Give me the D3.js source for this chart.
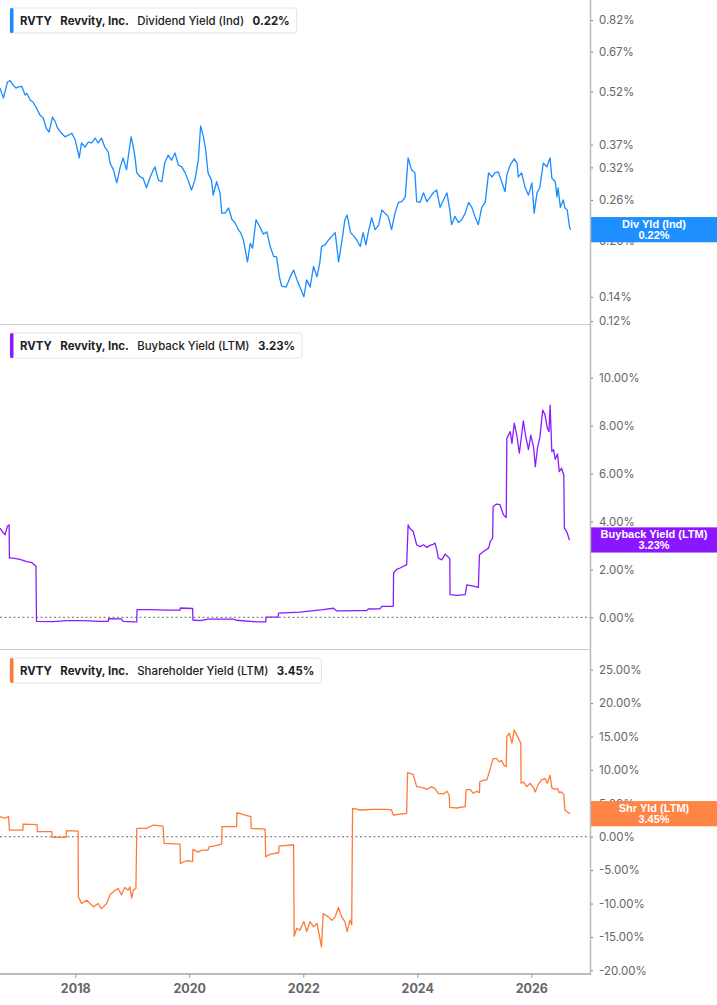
<!DOCTYPE html>
<html>
<head>
<meta charset="utf-8">
<script src="https://cdn.jsdelivr.net/npm/d3@7"></script>
<style>
  html, body { margin: 0; padding: 0; background: #fff; }
  svg { display: block; font-family: Inter, "Noto Sans", sans-serif; }
</style>
</head>
<body>
<div id="chart"></div>
<script>
(function() {
// chart values (time as decimal year, values in %)
let divT = [2016.68,2016.74,2016.81,2016.86,2016.91,2016.96,2017.00,2017.06,2017.12,2017.15,
  2017.21,2017.26,2017.32,2017.38,2017.44,2017.49,2017.54,2017.60,2017.65,2017.69,
  2017.76,2017.82,2017.88,2017.94,2018.00,2018.07,2018.11,2018.17,2018.23,2018.29,
  2018.35,2018.40,2018.46,2018.52,2018.58,2018.61,2018.67,2018.73,2018.79,2018.84,
  2018.90,2018.93,2018.98,2019.02,2019.05,2019.08,2019.14,2019.19,2019.25,2019.31,
  2019.37,2019.40,2019.46,2019.52,2019.57,2019.63,2019.69,2019.75,2019.81,2019.87,
  2019.93,2019.98,2020.04,2020.10,2020.16,2020.20,2020.25,2020.29,2020.33,2020.39,
  2020.42,2020.48,2020.54,2020.57,2020.63,2020.69,2020.75,2020.80,2020.86,2020.90,
  2020.95,2021.02,2021.07,2021.11,2021.17,2021.23,2021.30,2021.36,2021.42,2021.48,
  2021.53,2021.58,2021.62,2021.70,2021.77,2021.83,2021.89,2021.94,2022.01,2022.06,
  2022.12,2022.18,2022.24,2022.29,2022.32,2022.38,2022.44,2022.50,2022.56,2022.62,
  2022.68,2022.73,2022.77,2022.83,2022.89,2022.94,2023.00,2023.05,2023.10,2023.14,
  2023.20,2023.26,2023.32,2023.38,2023.43,2023.49,2023.55,2023.61,2023.67,2023.73,
  2023.79,2023.84,2023.90,2023.96,2023.99,2024.05,2024.11,2024.17,2024.22,2024.28,
  2024.34,2024.40,2024.46,2024.52,2024.57,2024.60,2024.66,2024.72,2024.78,2024.84,
  2024.90,2024.96,2025.01,2025.07,2025.13,2025.19,2025.25,2025.31,2025.36,2025.42,
  2025.48,2025.54,2025.57,2025.63,2025.70,2025.75,2025.77,2025.83,2025.89,2025.95,
  2026.01,2026.05,2026.10,2026.15,2026.21,2026.27,2026.33,2026.36,2026.42,2026.45,
  2026.47,2026.51,2026.56,2026.59,2026.63,2026.67,2026.69];
let divV = [.531,.498,.552,.557,.541,.531,.535,.537,.508,.513,
  .492,.485,.467,.447,.438,.411,.401,.441,.428,.411,
  .398,.389,.393,.398,.381,.340,.374,.364,.376,.374,
  .386,.374,.386,.364,.353,.329,.315,.290,.321,.340,
  .315,.342,.389,.364,.340,.309,.301,.299,.281,.299,
  .315,.321,.295,.292,.329,.346,.335,.351,.325,.321,
  .309,.295,.277,.295,.335,.417,.389,.357,.309,.295,
  .268,.292,.272,.239,.239,.247,.229,.225,.215,.211,
  .201,.175,.197,.191,.229,.220,.209,.212,.193,.181,
  .181,.159,.150,.149,.159,.166,.156,.149,.140,.156,
  .149,.170,.159,.174,.193,.195,.201,.206,.211,.175,
  .201,.229,.236,.211,.206,.201,.193,.211,.195,.211,
  .232,.215,.221,.244,.239,.234,.215,.239,.256,.257,
  .265,.340,.315,.309,.257,.256,.272,.257,.264,.272,
  .277,.248,.260,.272,.244,.222,.234,.225,.229,.239,
  .256,.247,.234,.222,.248,.256,.309,.301,.309,.311,
  .292,.274,.305,.325,.338,.329,.301,.309,.282,.268,
  .290,.239,.272,.282,.329,.321,.340,.299,.292,.265,
  .281,.248,.260,.247,.244,.219,.215];

let bbT = [2016.68,2016.73,2016.77,2016.81,2016.84,2016.845,2016.91,2017.03,2017.15,2017.24,
  2017.31,2017.32,2017.61,2017.85,2018.14,2018.43,2018.58,2018.585,2018.81,2018.84,
  2019.02,2019.08,2019.085,2019.31,2019.60,2019.84,2019.845,2020.06,2020.065,2020.19,
  2020.33,2020.77,2020.83,2021.18,2021.34,2021.345,2021.56,2021.565,2021.94,2022.35,
  2022.53,2022.59,2023.00,2023.11,2023.14,2023.35,2023.38,2023.58,2023.585,2023.64,
  2023.70,2023.815,2023.84,2023.87,2023.93,2023.99,2024.05,2024.11,2024.17,2024.22,
  2024.28,2024.31,2024.34,2024.37,2024.43,2024.49,2024.55,2024.57,2024.575,2024.69,
  2024.84,2024.87,2024.98,2025.07,2025.09,2025.16,2025.25,2025.28,2025.32,2025.33,
  2025.39,2025.45,2025.51,2025.56,2025.57,2025.63,2025.66,2025.70,2025.745,2025.79,
  2025.86,2025.90,2025.95,2025.99,2026.04,2026.07,2026.11,2026.15,2026.20,2026.24,
  2026.28,2026.31,2026.33,2026.36,2026.39,2026.42,2026.46,2026.49,2026.53,2026.57,
  2026.58,2026.62,2026.67];
let bbV = [3.72,3.55,3.45,3.80,3.86,2.47,2.47,2.42,2.33,2.28,
  2.13,-0.17,-0.18,-0.14,-0.14,-0.17,-0.17,-0.05,-0.06,-0.17,
  -0.19,-0.19,0.32,0.32,0.30,0.30,0.39,0.37,-0.11,-0.14,
  -0.07,-0.07,-0.12,-0.19,-0.19,0.01,0.01,0.18,0.22,0.32,
  0.38,0.27,0.28,0.28,0.35,0.36,0.46,0.46,1.85,2.00,
  2.06,2.20,3.86,3.72,3.58,3.03,2.95,3.03,2.92,3.00,
  3.05,3.10,2.85,2.47,2.40,2.64,2.50,2.45,0.95,0.92,
  0.95,1.36,1.30,1.25,2.61,2.75,2.89,3.17,3.30,4.63,
  4.73,4.70,4.28,4.17,7.47,7.75,7.26,8.10,7.60,6.85,
  8.20,7.57,7.00,7.60,7.10,6.29,7.10,7.51,8.65,8.45,
  7.90,7.75,8.86,6.92,7.00,6.60,6.82,6.08,6.22,5.94,
  3.72,3.58,3.23];

let shT = [2016.68,2016.76,2016.83,2016.845,2017.08,2017.085,2017.33,2017.335,2017.59,2017.595,
  2017.84,2017.845,2018.05,2018.055,2018.11,2018.20,2018.32,2018.40,2018.46,2018.55,
  2018.61,2018.70,2018.755,2018.81,2018.87,2018.93,2018.96,2018.99,2019.02,2019.065,
  2019.08,2019.25,2019.37,2019.54,2019.56,2019.84,2019.845,2019.955,2020.06,2020.065,
  2020.16,2020.22,2020.33,2020.35,2020.42,2020.57,2020.575,2020.83,2020.835,2020.95,
  2021.08,2021.085,2021.33,2021.34,2021.42,2021.57,2021.575,2021.83,2021.84,2021.885,
  2021.94,2022.01,2022.06,2022.12,2022.18,2022.24,2022.28,2022.32,2022.35,2022.44,
  2022.50,2022.56,2022.615,2022.675,2022.73,2022.77,2022.82,2022.85,2022.865,2023.00,
  2023.23,2023.46,2023.55,2023.58,2023.815,2023.83,2023.87,2023.93,2023.99,2024.08,
  2024.17,2024.25,2024.31,2024.37,2024.46,2024.52,2024.56,2024.57,2024.69,2024.84,
  2024.855,2024.925,2024.98,2025.04,2025.09,2025.095,2025.16,2025.22,2025.28,2025.33,
  2025.39,2025.44,2025.48,2025.52,2025.56,2025.57,2025.615,2025.66,2025.70,2025.745,
  2025.77,2025.815,2025.82,2025.86,2025.92,2025.98,2026.04,2026.07,2026.12,2026.18,
  2026.24,2026.28,2026.33,2026.36,2026.42,2026.46,2026.49,2026.53,2026.57,2026.59,
  2026.63,2026.68];
let shV = [3.0,2.8,3.0,1.0,1.0,1.9,1.8,0.75,0.75,-0.1,
  -0.1,0.9,0.85,-9.0,-10.0,-9.5,-10.5,-10.0,-10.8,-10.0,
  -8.7,-8.0,-7.75,-8.7,-7.6,-8.0,-7.5,-9.2,-8.0,-7.75,
  1.25,1.25,1.75,1.6,-1.0,-1.1,-4.0,-3.6,-3.7,-1.9,
  -2.3,-2.0,-2.0,-1.5,-1.4,-1.1,1.5,1.5,3.6,3.3,
  3.0,1.25,1.15,-3.0,-2.6,-2.4,-1.4,-1.2,-14.9,-13.7,
  -14.0,-12.7,-14.2,-12.7,-13.5,-13.0,-14.7,-16.5,-11.5,-12.0,
  -12.5,-12.0,-10.6,-12.0,-12.7,-14.2,-12.5,-13.2,4.25,4.0,
  4.1,4.1,4.0,3.25,3.5,9.6,9.5,9.3,7.5,7.4,
  7.1,7.5,7.2,6.5,6.4,6.8,6.2,4.4,4.3,4.5,
  7.0,7.1,6.5,6.8,6.6,8.2,8.45,8.5,10.2,11.7,
  11.7,11.2,11.4,10.7,10.5,15.0,15.5,14.0,16.0,15.2,
  14.8,14.0,8.0,8.2,7.5,8.0,7.3,6.7,7.8,8.5,
  8.7,8.0,9.2,7.3,7.1,7.2,6.6,6.7,6.3,4.0,
  3.75,3.45];

let divTicks = [0.12, 0.14, 0.20, 0.26, 0.32, 0.37, 0.52, 0.67, 0.82];
let bbTicks = [0, 2, 4, 6, 8, 10];
let shTicks = [-20, -15, -10, -5, 0, 5, 10, 15, 20, 25];
let yearTicks = [2018, 2020, 2022, 2024, 2026];

let W = 717, H = 1005;
let plotRight = 590;

function toDate(t) {
  let y = Math.floor(t);
  let s = new Date(y, 0, 1), e = new Date(y + 1, 0, 1);
  return new Date(+s + (t - y) * (e - s));
}

let x = d3.scaleTime()
  .domain([toDate(2016.68), toDate(2027.03)])
  .range([0, plotRight]);

let panels = [
  { top: 0, bottom: 324, t: divT, v: divV, ticks: divTicks, color: '#1a8cff', box: '#1e8fff',
    scale: d3.scaleLog().domain([0.1177, 0.932]), fmt: d => d.toFixed(2) + '%',
    metric: 'Dividend Yield (Ind)', val: '0.22%', short: 'Div Yld (Ind)', zero: false },
  { top: 325, bottom: 649, t: bbT, v: bbV, ticks: bbTicks, color: '#8a1cff', box: '#8a17ff',
    scale: d3.scaleLinear().domain([-1.32, 12.2]), fmt: d => d.toFixed(2) + '%',
    metric: 'Buyback Yield (LTM)', val: '3.23%', short: 'Buyback Yield (LTM)', zero: true },
  { top: 650, bottom: 974, t: shT, v: shV, ticks: shTicks, color: '#ff7a3a', box: '#ff8446',
    scale: d3.scaleLinear().domain([-20.55, 27.95]), fmt: d => d.toFixed(2) + '%',
    metric: 'Shareholder Yield (LTM)', val: '3.45%', short: 'Shr Yld (LTM)', zero: true }
];

let svg = d3.select('#chart').append('svg')
  .attr('width', W).attr('height', H);

panels.forEach((p, i) => {
  let y = p.scale.range([p.bottom, p.top]);
  let g = svg.append('g');

  // panel base line
  if (i < 2) {
    g.append('line')
      .attr('x1', 0).attr('x2', plotRight)
      .attr('y1', p.bottom + 0.5).attr('y2', p.bottom + 0.5)
      .attr('stroke', '#cccccc').attr('stroke-width', 1);
  }

  // zero line
  if (p.zero) {
    g.append('line')
      .attr('x1', 0).attr('x2', plotRight)
      .attr('y1', y(0)).attr('y2', y(0))
      .attr('stroke', '#8a8a8a').attr('stroke-width', 1.2)
      .attr('stroke-dasharray', '2,2.5');
  }

  // right axis
  let ax = g.append('g')
    .attr('transform', 'translate(' + plotRight + ',0)')
    .call(d3.axisRight(y).tickValues(p.ticks).tickFormat(p.fmt).tickSize(3).tickPadding(6));
  ax.select('.domain').remove();
  ax.selectAll('.tick line').attr('stroke', '#777');
  ax.selectAll('.tick text')
    .attr('fill', '#666').attr('font-size', 11.5).attr('font-family', 'Inter, sans-serif');

  // series
  let data = p.t.map((t, k) => ({ d: toDate(t), v: p.v[k] }));
  g.append('path')
    .datum(data)
    .attr('fill', 'none')
    .attr('stroke', p.color)
    .attr('stroke-width', 1.3)
    .attr('stroke-linejoin', 'round')
    .attr('d', d3.line().x(d => x(d.d)).y(d => y(d.v)));

  // last value box
  let last = data[data.length - 1];
  let cy = y(last.v);
  g.append('rect')
    .attr('x', plotRight).attr('y', cy - 12.6)
    .attr('width', W - plotRight).attr('height', 25.2)
    .attr('fill', p.box);
  g.append('text')
    .attr('x', 654).attr('y', cy - 5.4).attr('dy', '.35em')
    .attr('text-anchor', 'middle').attr('fill', '#fff')
    .attr('font-family', '"Liberation Sans", Arial, sans-serif')
    .attr('font-size', 11).attr('font-weight', 700)
    .text(p.short);
  g.append('text')
    .attr('x', 654).attr('y', cy + 5.6).attr('dy', '.35em')
    .attr('text-anchor', 'middle').attr('fill', '#fff')
    .attr('font-family', '"Liberation Sans", Arial, sans-serif')
    .attr('font-size', 11).attr('font-weight', 700)
    .text(p.val);

  // legend
  let lg = g.append('g').attr('transform', 'translate(10,' + (p.top + 8) + ')');
  let bg = lg.append('rect')
    .attr('x', 0).attr('y', 0).attr('height', 25).attr('rx', 3)
    .attr('fill', '#fff').attr('stroke', '#e4e4e4');
  lg.append('rect')
    .attr('x', 0).attr('y', 0).attr('width', 3.5).attr('height', 25).attr('rx', 1.5)
    .attr('fill', p.color);
  let parts = [
    { s: 'RVTY', w: 700 },
    { s: 'Revvity, Inc.', w: 700 },
    { s: p.metric, w: 500 },
    { s: p.val, w: 700 }
  ];
  let cx = 10;
  parts.forEach((pt, k) => {
    let tx = lg.append('text')
      .attr('x', cx).attr('y', 12.7).attr('dy', '.35em')
      .attr('fill', '#222').attr('font-size', 11.4).attr('font-weight', pt.w)
      .text(pt.s);
    cx += tx.node().getComputedTextLength() + (k < 3 ? 8.5 : 7);
  });
  bg.attr('width', cx);
});

// vertical axis line
svg.append('line')
  .attr('x1', plotRight + 0.5).attr('x2', plotRight + 0.5)
  .attr('y1', 0).attr('y2', 975)
  .attr('stroke', '#bbbbbb').attr('stroke-width', 1.5);

// bottom time axis
let xa = svg.append('g')
  .attr('transform', 'translate(0,974)')
  .call(d3.axisBottom(x).tickValues(yearTicks.map(t => new Date(t, 0, 1)))
    .tickFormat(d3.timeFormat('%Y')).tickSize(4).tickPadding(6));
xa.select('.domain').attr('stroke', '#bbbbbb').attr('stroke-width', 2)
  .attr('d', 'M0,0H' + plotRight);
xa.selectAll('.tick line').attr('stroke', '#999');
xa.selectAll('.tick text')
  .attr('fill', '#666').attr('font-size', 12.5).attr('font-weight', 700)
  .attr('font-family', 'Inter, sans-serif');
})();
</script>
</body>
</html>
